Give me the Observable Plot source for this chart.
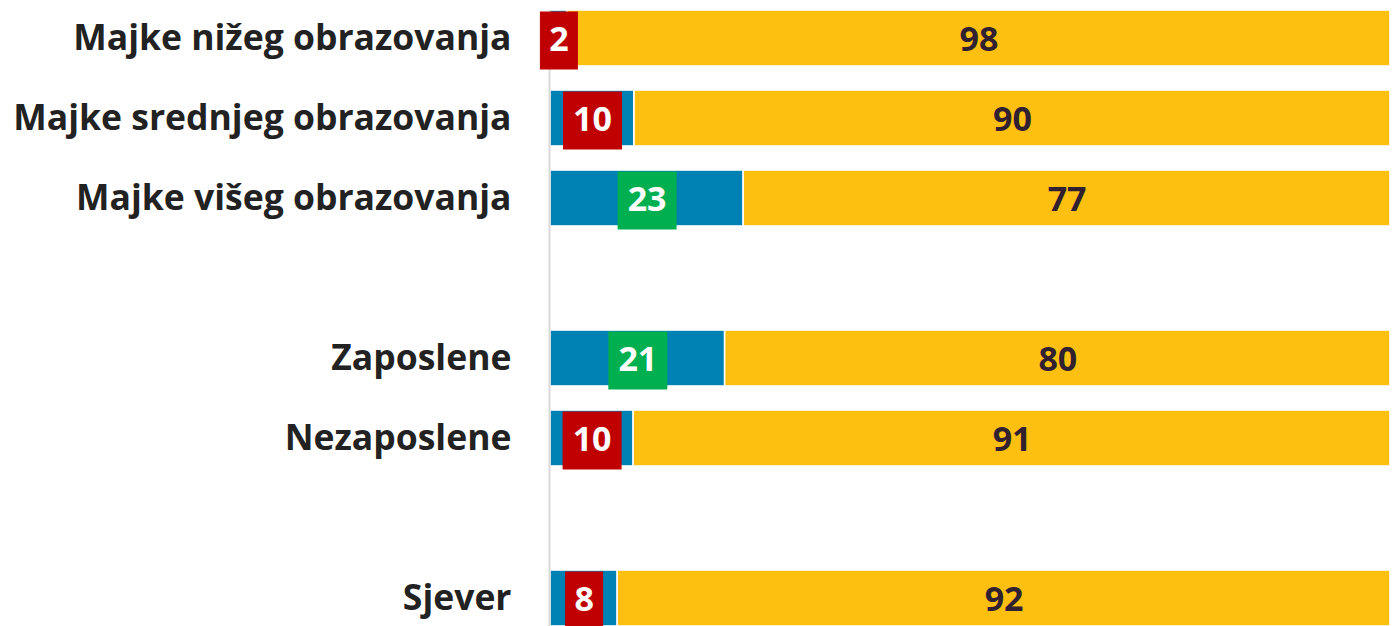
<!DOCTYPE html>
<html>
<head>
<meta charset="utf-8">
<script src="https://cdn.jsdelivr.net/npm/d3@7"></script>
<script src="https://cdn.jsdelivr.net/npm/@observablehq/plot@0.6"></script>
<style>
  html, body { margin: 0; padding: 0; background: #fff; }
  #chart svg { display: block; }
</style>
</head>
<body>
<div id="chart"></div>
<script>
// Categories in display order (gap rows separate groups)
const categories = [
  "Majke nižeg obrazovanja",
  "Majke srednjeg obrazovanja",
  "Majke višeg obrazovanja",
  "gap1",
  "Zaposlene",
  "Nezaposlene",
  "gap2",
  "Sjever"
];
const rowCategories = [
  "Majke nižeg obrazovanja",
  "Majke srednjeg obrazovanja",
  "Majke višeg obrazovanja",
  "Zaposlene",
  "Nezaposlene",
  "Sjever"
];
const blueValues = [2, 10, 23, 21, 10, 8];
const yellowValues = [98, 90, 77, 80, 91, 92];
const flags = ["low", "low", "high", "high", "low", "low"];

const BLUE = "#0081b3", YELLOW = "#fdc010", RED = "#c00000", GREEN = "#00b050";

const data = [];
rowCategories.forEach((c, i) => {
  data.push({cat: c, series: "blue", value: blueValues[i], flag: flags[i]});
  data.push({cat: c, series: "yellow", value: yellowValues[i], flag: flags[i]});
});

const FONT = "'Open Sans', sans-serif";
const stackOpts = {offset: "normalize", order: null};

const chart = Plot.plot({
  width: 1397,
  height: 626,
  marginLeft: 550,
  marginRight: 7,
  marginTop: 10,
  marginBottom: 0,
  style: {fontFamily: FONT, background: "#fff"},
  x: {axis: null, domain: [0, 1]},
  y: {domain: categories, paddingInner: 0.3, paddingOuter: 0, label: null},
  marks: [
    Plot.axisY({
      tickSize: 0,
      tickPadding: 39,
      fontSize: 35.5,
      fontWeight: "bold",
      fill: "#222",
      tickFormat: d => d.startsWith("gap") ? "" : d
    }),
    Plot.barX(data, Plot.stackX({
      ...stackOpts,
      x: "value",
      y: "cat",
      z: "series",
      fill: d => d.series === "blue" ? BLUE : YELLOW,
      stroke: "white",
      strokeWidth: 1.6
    })),
    Plot.ruleX([0], {stroke: "#d9d9d9", strokeWidth: 2, dx: -1}),
    Plot.text(data, Plot.stackX({
      ...stackOpts,
      x: "value",
      y: "cat",
      z: "series",
      text: d => d.series === "yellow" ? String(d.value) : "",
      fill: "#302030",
      fontSize: 34,
      fontWeight: "bold",
      dy: 2
    })),
    Plot.text(data, Plot.stackX({
      ...stackOpts,
      x: "value",
      y: "cat",
      z: "series",
      text: d => d.series === "blue" ? String(d.value) : "",
      fill: "white",
      fontSize: 34,
      fontWeight: "bold",
      dy: 2,
      render: function(index, scales, values, dimensions, context, next) {
        const idx = index.filter(i => data[i].series === "blue");
        const g = next(idx, scales, values, dimensions, context);
        const bw = scales.y.bandwidth();
        const ns = "http://www.w3.org/2000/svg";
        const grp = document.createElementNS(ns, "g");
        for (const i of idx) {
          const d = data[i];
          const w = String(d.value).length === 1 ? 38 : 59;
          const r = document.createElementNS(ns, "rect");
          r.setAttribute("x", values.x[i] - w / 2);
          r.setAttribute("y", values.y[i] - bw / 2 - 1);
          r.setAttribute("width", w);
          r.setAttribute("height", bw + 2);
          r.setAttribute("fill", d.flag === "high" ? GREEN : RED);
          grp.appendChild(r);
        }
        g.insertBefore(grp, g.firstChild);
        return g;
      }
    }))
  ]
});
document.getElementById("chart").appendChild(chart);
</script>
</body>
</html>
